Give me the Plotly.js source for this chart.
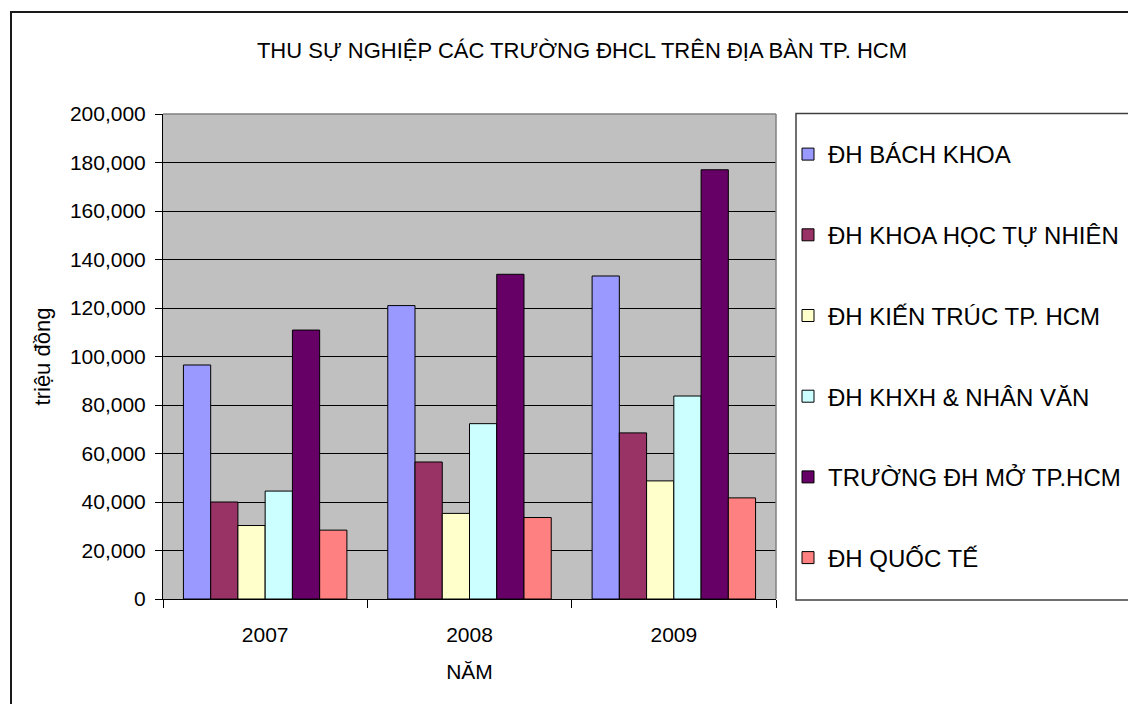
<!DOCTYPE html>
<html>
<head>
<meta charset="utf-8">
<script src="https://cdn.plot.ly/plotly-3.0.1.min.js"></script>
<style>
html,body{margin:0;padding:0;background:#fff;}
#chart{width:1128px;height:704px;}
</style>
</head>
<body>
<div id="chart"></div>
<script>
const years = ["2007", "2008", "2009"];
const seriesNames = ["ĐH BÁCH KHOA", "ĐH KHOA HỌC TỰ NHIÊN", "ĐH KIẾN TRÚC TP. HCM", "ĐH KHXH & NHÂN VĂN", "TRƯỜNG ĐH MỞ TP.HCM", "ĐH QUỐC TẾ"];
const bachKhoa = [96500, 121000, 133200];
const khoaHocTuNhien = [40000, 56500, 68500];
const kienTruc = [30300, 35300, 48700];
const khxhNhanVan = [44500, 72300, 83700];
const moTPHCM = [110900, 133900, 177000];
const quocTe = [28400, 33600, 41700];
const colors = ["#9999FF", "#993366", "#FFFFCC", "#CCFFFF", "#660066", "#FF8080"];

const allValues = [bachKhoa, khoaHocTuNhien, kienTruc, khxhNhanVan, moTPHCM, quocTe];
const FONT = "Liberation Sans, Arial, sans-serif";

const traces = allValues.map((vals, i) => ({
  type: "bar",
  name: seriesNames[i],
  x: years,
  y: vals,
  legendgroup: "g" + i,
  marker: {color: colors[i], line: {color: "#000000", width: 1}},
  hoverinfo: "x+y+name"
}));

// plot-area geometry (px) for paper-coordinate conversions
const L = 163, R = 776, T = 114, B = 599, W = 1128, H = 704;
const px = v => (v - L) / (R - L);
const py = v => (B - v) / (B - T);

const layout = {
  width: W, height: H,
  margin: {l: L, r: W - R, t: T, b: H - B, pad: 0, autoexpand: false},
  paper_bgcolor: "#ffffff",
  plot_bgcolor: "#C0C0C0",
  font: {family: FONT, size: 21, color: "#000000"},
  barmode: "group",
  bargap: 0.2,
  bargroupgap: 0,
  title: {
    text: "THU SỰ NGHIỆP CÁC TRƯỜNG ĐHCL TRÊN ĐỊA BÀN TP. HCM",
    font: {family: FONT, size: 22, color: "#000"},
    x: 582 / W, xref: "container", xanchor: "center",
    y: 1 - 50 / H, yref: "container", yanchor: "middle"
  },
  xaxis: {
    type: "category",
    tickson: "boundaries",
    ticks: "outside", ticklen: 8, tickcolor: "#000", tickwidth: 1,
    showline: true, linecolor: "#000", linewidth: 1,
    showgrid: false,
    ticklabelstandoff: 17,
    tickfont: {family: FONT, size: 21},
    title: {text: "NĂM", font: {family: FONT, size: 21}, standoff: 19}
  },
  yaxis: {
    range: [0, 200000],
    dtick: 20000,
    tickformat: ",d",
    ticks: "outside", ticklen: 7, tickcolor: "#000", tickwidth: 1,
    showline: true, linecolor: "#000", linewidth: 1,
    showgrid: true, gridcolor: "#000", gridwidth: 1,
    zeroline: false,
    ticklabelstandoff: 5,
    tickfont: {family: FONT, size: 21},
    title: {text: "triệu đồng", font: {family: FONT, size: 22}, standoff: 13}
  },
  showlegend: true,
  legend: {
    x: px(788), xanchor: "left",
    y: py(132), yanchor: "top",
    bgcolor: "rgba(0,0,0,0)",
    borderwidth: 0,
    font: {family: FONT, size: 24, color: "#000"},
    traceorder: "grouped",
    tracegroupgap: 46.5,
    itemclick: false, itemdoubleclick: false
  },
  shapes: [
    // outer chart frame
    {type: "rect", xref: "paper", yref: "paper", x0: px(11), x1: px(1140), y0: py(720), y1: py(12),
     line: {color: "#1a1a1a", width: 2}, fillcolor: "rgba(0,0,0,0)", layer: "below"},
    // legend box
    {type: "rect", xref: "paper", yref: "paper", x0: px(796), x1: px(1140), y0: py(600), y1: py(113.5),
     line: {color: "#404040", width: 1.5}, fillcolor: "rgba(0,0,0,0)", layer: "above"},
    // plot area border (top & right in gray)
    {type: "line", xref: "paper", yref: "paper", x0: 0, x1: 1, y0: 1, y1: 1, line: {color: "#808080", width: 1.5}},
    {type: "line", xref: "paper", yref: "paper", x0: 1, x1: 1, y0: 0, y1: 1, line: {color: "#808080", width: 1.5}}
  ]
};

Plotly.newPlot("chart", traces, layout, {displayModeBar: false, staticPlot: false});
</script>
</body>
</html>
